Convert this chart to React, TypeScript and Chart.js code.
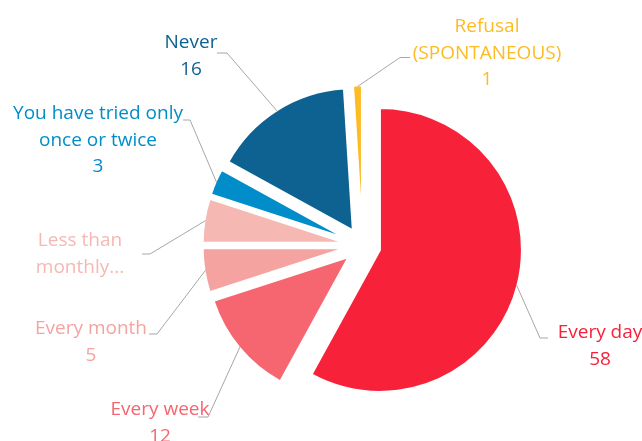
import React, { useEffect, useRef } from "react";
import { Chart, registerables } from "chart.js";

Chart.register(...registerables);

const categories = [
  "Every day",
  "Every week",
  "Every month",
  "Less than monthly...",
  "You have tried only once or twice",
  "Never",
  "Refusal (SPONTANEOUS)",
];
const values = [58, 12, 5, 5, 3, 16, 1];
const labelLines = [
  ["Every day"],
  ["Every week"],
  ["Every month"],
  ["Less than", "monthly..."],
  ["You have tried only", "once or twice"],
  ["Never"],
  ["Refusal", "(SPONTANEOUS)"],
];
const showValue = [true, true, true, false, true, true, true];
const sliceColors = ["#F8213A", "#F56670", "#F4A3A1", "#F5B8B2", "#008DC9", "#0E6291", "#FDBB24"];

// label layout: elbow of the leader line, end of its short horizontal run, text centre x and first baseline
const labelLayout = [
  { elbow: [540, 338], end: [548, 338], tx: 600, ty: 338 },
  { elbow: [208, 417], end: [198, 417], tx: 160, ty: 415 },
  { elbow: [157, 334], end: [149, 334], tx: 91, ty: 334 },
  { elbow: [150, 254], end: [142, 254], tx: 80, ty: 246 },
  { elbow: [190, 120], end: [183, 120], tx: 98, ty: 119 },
  { elbow: [227, 53], end: [217, 53], tx: 191, ty: 48 },
  { elbow: [400, 57.5], end: [410, 57.5], tx: 487, ty: 32 },
];

const EXPLODE = 18;
const FONT = "19px 'Open Sans'";
const LINE_H = 26.5;

// explode every slice by EXPLODE px along its mid-angle (the library's arc draws itself, shifted)
const explodePlugin = {
  id: "explode",
  beforeDatasetsDraw(chart: any) {
    const meta = chart.getDatasetMeta(0);
    meta.data.forEach((arc: any) => {
      if (arc.__wrapped) return;
      const orig = arc.draw;
      arc.draw = function (ctx: CanvasRenderingContext2D) {
        const mid = (this.startAngle + this.endAngle) / 2;
        ctx.save();
        ctx.translate(Math.cos(mid) * EXPLODE, Math.sin(mid) * EXPLODE);
        orig.call(this, ctx);
        ctx.restore();
      };
      arc.__wrapped = true;
    });
  },
};

const labelPlugin = {
  id: "pieLabels",
  afterDraw(chart: any) {
    const ctx = chart.ctx;
    const meta = chart.getDatasetMeta(0);
    ctx.save();
    meta.data.forEach((arc: any, i: number) => {
      const { x, y, startAngle, endAngle, outerRadius } = arc.getProps(
        ["x", "y", "startAngle", "endAngle", "outerRadius"],
        true
      );
      const mid = (startAngle + endAngle) / 2;
      const cx = x + Math.cos(mid) * EXPLODE;
      const cy = y + Math.sin(mid) * EXPLODE;
      const px = cx + Math.cos(mid) * (outerRadius - 1);
      const py = cy + Math.sin(mid) * (outerRadius - 1);
      const lay = labelLayout[i];
      ctx.strokeStyle = "#A6A6A6";
      ctx.lineWidth = 1;
      ctx.beginPath();
      ctx.moveTo(px, py);
      ctx.lineTo(lay.elbow[0], lay.elbow[1]);
      ctx.lineTo(lay.end[0], lay.end[1]);
      ctx.stroke();
      const lines = [...labelLines[i]];
      if (showValue[i]) lines.push(String(values[i]));
      ctx.fillStyle = sliceColors[i];
      ctx.font = FONT;
      ctx.textAlign = "center";
      ctx.textBaseline = "alphabetic";
      lines.forEach((t, k) => ctx.fillText(t, lay.tx, lay.ty + k * LINE_H));
    });
    ctx.restore();
  },
};

export default function App() {
  const ref = useRef<HTMLCanvasElement>(null);
  useEffect(() => {
    if (!ref.current) return;
    const chart = new Chart(ref.current, {
      type: "pie",
      data: {
        labels: categories,
        datasets: [
          {
            data: values,
            backgroundColor: sliceColors,
            borderColor: "#ffffff",
            borderWidth: 2,
            offset: 0,
            hoverOffset: 0,
          },
        ],
      },
      options: {
        responsive: false,
        animation: false,
        radius: 142,
        layout: { padding: { left: 83, right: 0, top: 50, bottom: 0 } },
        plugins: { legend: { display: false }, tooltip: { enabled: false } },
      } as any,
      plugins: [explodePlugin, labelPlugin],
    });
    return () => chart.destroy();
  }, []);
  return (
    <canvas
      ref={ref}
      width={642}
      height={441}
      style={{ position: "fixed", left: 0, top: 0, display: "block", background: "#fff" }}
    />
  );
}
